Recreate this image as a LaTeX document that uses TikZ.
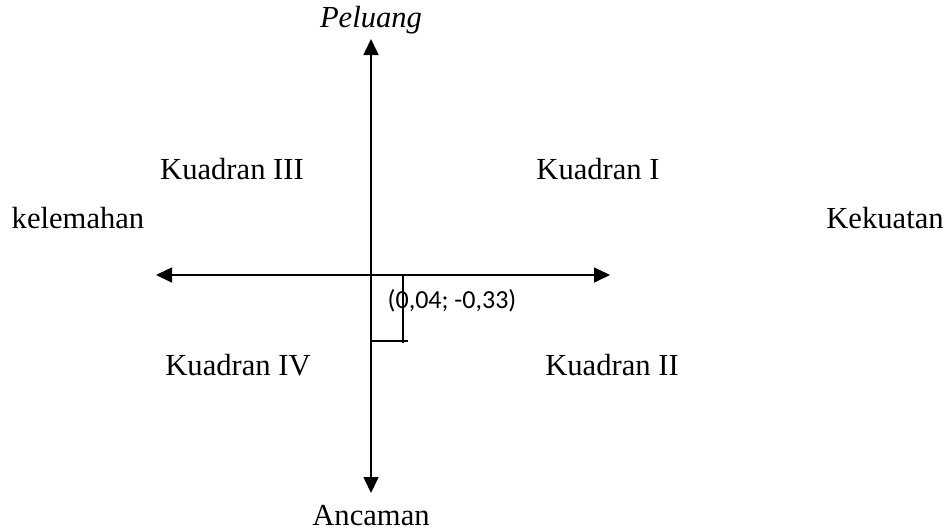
\documentclass[tikz,border=0pt]{standalone}
\usepackage{fontspec}
\setmainfont{Liberation Serif}
\newfontfamily\calib{Carlito}
\usetikzlibrary{arrows.meta}
\begin{document}
\begin{tikzpicture}[x=0.5pt,y=-0.5pt,
  axis/.style={line width=0.8pt,-{Triangle[length=8pt,width=7.5pt]}},
  thin line/.style={line width=0.6pt},
  lbl/.style={font=\fontsize{15.3}{18}\selectfont,inner sep=0pt},
  coord/.style={font=\calib\fontsize{13}{16}\selectfont,inner sep=0pt}]
\useasboundingbox (0,0) rectangle (946,530);
\coordinate (o) at (371,275);
\coordinate (top) at (371,39);
\coordinate (bot) at (371,493);
\coordinate (lft) at (156,275);
\coordinate (rgt) at (610,275);
\draw[axis] (o) -- (top);
\draw[axis] (o) -- (bot);
\draw[axis] (o) -- (lft);
\draw[axis] (o) -- (rgt);
\coordinate (p1) at (403,275);
\coordinate (p2) at (403,343);
\coordinate (p3) at (371,341);
\coordinate (p4) at (408,341);
\draw[thin line] (p1) -- (p2);
\draw[thin line] (p3) -- (p4);
\node[lbl,font=\itshape\fontsize{15.3}{18}\selectfont] (pel) at (371,20) {Peluang};
\node[lbl] (k3) at (232,169) {Kuadran III};
\node[lbl] (k1) at (598,169) {Kuadran I};
\node[lbl] (kel) at (78,218) {kelemahan};
\node[lbl] (kek) at (885,218) {Kekuatan};
\node[coord] (pt) at (452,301) {(0,04; -0,33)};
\node[lbl] (k4) at (238,365) {Kuadran IV};
\node[lbl] (k2) at (612,365) {Kuadran II};
\node[lbl] (anc) at (371,516) {Ancaman};
\end{tikzpicture}
\end{document}
